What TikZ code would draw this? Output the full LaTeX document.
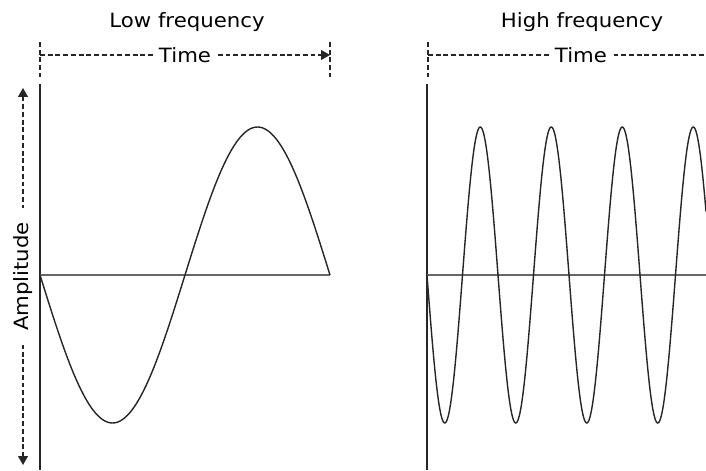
\documentclass[tikz,border=0pt]{standalone}
\usepackage{fontspec}
\setmainfont[FakeStretch=1.08]{DejaVu Sans}
\usetikzlibrary{arrows.meta}

\begin{document}
\begin{tikzpicture}[
    x=0.02cm, y=-0.02cm,
    lbl/.style={font=\fontsize{11.2}{13}\selectfont, text=black, inner sep=0pt},
    gap/.style={lbl, fill=white, inner xsep=2.5pt, inner ysep=2pt},
    axis/.style={line width=0.75pt, black!85},
    zeroline/.style={line width=0.8pt, black!60},
    wave/.style={line width=0.8pt, black!85},
    guide/.style={line width=0.65pt, black!85, dash pattern=on 2.8pt off 1.6pt},
    >={Triangle[length=5pt, width=5.5pt]}
  ]
    \useasboundingbox (0,0) rectangle (706,470);

    % titles
    \node[lbl, anchor=base] (lowtitle) at (187,27.7) {Low frequency};
    \node[lbl, anchor=base] (hightitle) at (582,27.7) {High frequency};

    % left panel
    \coordinate (lowO) at (40,275);
    \coordinate (lowTop) at (40,84);
    \coordinate (lowBot) at (40,470);
    \coordinate (lowEnd) at (330,275);
    \draw[axis] (lowTop) -- (lowBot);
    \draw[zeroline] (lowO) -- (lowEnd);
    \draw[wave] plot[domain=40:330, samples=150, smooth] (\x, {275+148*sin((\x-40)/290*360)});

    \draw[guide] (40,42) -- (40,77);
    \draw[guide] (330,42) -- (330,77);
    \coordinate (lowTimeA) at (40,55);
    \coordinate (lowTimeB) at (330,55);
    \draw[guide, ->] (lowTimeA) -- node[gap] (lowtime) {Time} (lowTimeB);

    % amplitude
    \coordinate (ampTop) at (23,88);
    \coordinate (ampBot) at (23,465);
    \draw[guide, <->] (ampTop) -- node[gap, rotate=90, inner xsep=8pt] (amp) {Amplitude} (ampBot);

    % right panel
    \coordinate (highO) at (427,275);
    \coordinate (highTop) at (427,84);
    \coordinate (highBot) at (427,470);
    \coordinate (highEnd) at (706,275);
    \draw[axis] (highTop) -- (highBot);
    \draw[zeroline] (highO) -- (highEnd);
    \draw[wave] plot[domain=427:706, samples=400, smooth] (\x, {275+148*sin((\x-427)/71*360)});

    \draw[guide] (428,42) -- (428,77);
    \coordinate (highTimeA) at (428,55);
    \coordinate (highTimeB) at (706,55);
    \draw[guide] (highTimeA) -- node[gap, pos=0.55] (hightime) {Time} (highTimeB);
\end{tikzpicture}
\end{document}
